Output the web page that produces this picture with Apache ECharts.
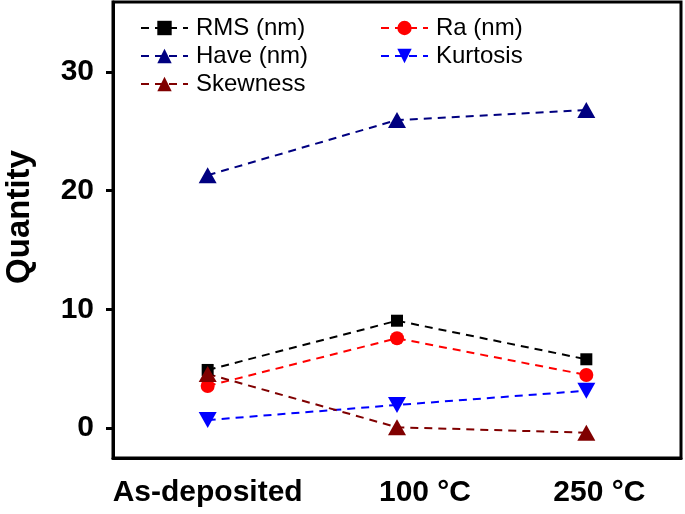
<!DOCTYPE html>
<html>
<head>
<meta charset="utf-8">
<script src="https://cdn.jsdelivr.net/npm/echarts@6/dist/echarts.min.js"></script>
<style>html,body{margin:0;padding:0;background:#fff}#c{width:685px;height:514px}</style>
</head>
<body>
<div id="c"></div>
<script>
var categories = ['As-deposited', '100 °C', '250 °C'];
var rms = [4.89, 9.04, 5.79];
var ra = [3.54, 7.56, 4.47];
var have = [21.3, 25.95, 26.8];
var kurtosis = [0.67, 1.94, 3.14];
var skewness = [4.55, 0.06, -0.40];
var yTicks = [0, 10, 20, 30];

var FONT = "'Liberation Sans', Arial, sans-serif";
var chart = echarts.init(document.getElementById('c'));

function mk(name, data, color, symbol, size, rotate) {
  return {
    name: name, type: 'line', data: data,
    symbol: symbol, symbolSize: size, symbolRotate: rotate || 0,
    itemStyle: { color: color },
    lineStyle: { color: color, width: 2, type: [8, 6] },
    z: 3
  };
}

var labelRich = {
  l0: { fontFamily: FONT, fontSize: 30, fontWeight: 'bold', color: '#000', padding: [0, 0, 0, 0] },
  l1: { fontFamily: FONT, fontSize: 30, fontWeight: 'bold', color: '#000', padding: [0, 0, 0, 56] },
  l2: { fontFamily: FONT, fontSize: 30, fontWeight: 'bold', color: '#000', padding: [0, 0, 0, 26] }
};

var legendText = { fontFamily: FONT, fontSize: 24, color: '#000', lineHeight: 24, padding: [0, 0, 0, 3] };

chart.setOption({
  animation: false,
  backgroundColor: '#fff',
  grid: { left: 113, right: 4, top: 2, bottom: 56, show: true, borderColor: '#000', borderWidth: 3,
          containLabel: false, outerBoundsMode: 'none' },
  legend: [
    { orient: 'vertical', left: 135, top: 11, itemWidth: 47, itemHeight: 18, itemGap: 4,
      textStyle: legendText, data: ['RMS (nm)', 'Have (nm)', 'Skewness'] },
    { orient: 'vertical', left: 375, top: 11, itemWidth: 47, itemHeight: 18, itemGap: 4,
      textStyle: legendText, data: ['Ra (nm)', 'Kurtosis'] }
  ],
  xAxis: {
    type: 'category', data: categories, boundaryGap: true,
    axisLine: { onZero: false, lineStyle: { color: '#000', width: 3 } },
    axisTick: { alignWithLabel: true, length: 7, lineStyle: { width: 3, color: '#000' } },
    axisLabel: {
      interval: 0, hideOverlap: false, margin: 20,
      fontFamily: FONT, fontSize: 30, fontWeight: 'bold', color: '#000',
      formatter: function (v, i) { return '{l' + i + '|' + v + '}'; },
      rich: labelRich
    }
  },
  yAxis: {
    type: 'value', min: -2.53, max: 35.9,
    name: 'Quantity', nameLocation: 'middle', nameRotate: 90, nameGap: 77,
    nameTextStyle: { fontFamily: FONT, fontSize: 33, fontWeight: 'bold', color: '#000', padding: [0, 0, 0, 26] },
    splitLine: { show: false },
    axisLine: { show: true, onZero: false, lineStyle: { color: '#000', width: 3 } },
    axisTick: { show: true, length: 7, customValues: yTicks, lineStyle: { width: 3, color: '#000' } },
    axisLabel: { fontFamily: FONT, fontSize: 30, fontWeight: 'bold', color: '#000', margin: 19, customValues: yTicks }
  },
  series: [
    mk('RMS (nm)', rms, '#000000', 'rect', 12),
    mk('Ra (nm)', ra, '#ff0000', 'circle', 14),
    mk('Have (nm)', have, '#000080', 'triangle', [18, 16]),
    mk('Kurtosis', kurtosis, '#0000ff', 'triangle', [18, 16], 180),
    mk('Skewness', skewness, '#800000', 'triangle', [18, 16])
  ]
});
</script>
</body>
</html>
